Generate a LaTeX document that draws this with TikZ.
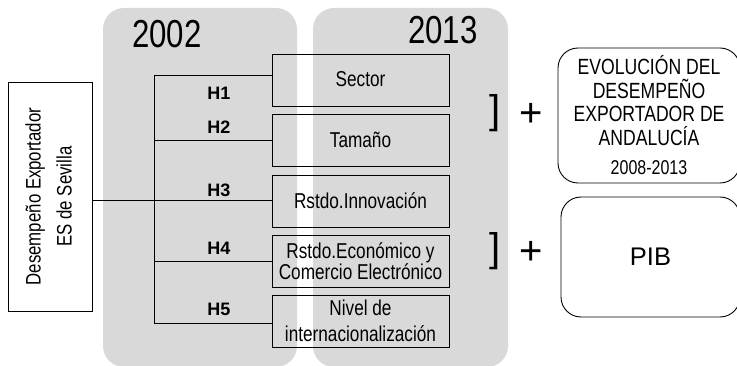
\documentclass[tikz,border=0pt]{standalone}
\usepackage{fontspec}
\setmainfont{Liberation Sans}
\newfontfamily\narrowfont{Liberation Sans}[FakeStretch=0.8]
\usetikzlibrary{positioning}

\tikzset{
  factor/.style={draw, line width=0.9pt, minimum width=177pt, minimum height=52pt,
    inner sep=1pt, align=center, font=\narrowfont\fontsize{21.5}{18.5}\selectfont},
  hyp/.style={font=\fontsize{18}{20}\selectfont\bfseries},
  yearlabel/.style={font=\narrowfont\fontsize{39}{40}\selectfont},
  bigsign/.style={inner sep=0pt, font=\fontsize{40}{44}\selectfont},
  roundbox/.style={draw, line width=0.9pt, rounded corners=20pt, align=center}
}

\begin{document}
\begin{tikzpicture}[x=1pt, y=-1pt]

% Define colors
\definecolor{panelgray}{RGB}{217, 217, 217}

\clip (0, 0) rectangle (737, 366);

% Draw the year panels
\fill[panelgray, rounded corners=21pt] (103, 8) rectangle (297, 367);
\fill[panelgray, rounded corners=21pt] (313, 8) rectangle (508, 367);

\node[yearlabel] (y2002) at (167, 34) {2002};
\node[yearlabel] (y2013) at (443, 30) {2013};

% Source box
\node[draw, line width=0.9pt, minimum width=84pt, minimum height=229pt, inner sep=0pt]
  (src) at (50, 196.5)
  {\rotatebox{90}{\narrowfont\fontsize{21}{31}\selectfont
   \begin{tabular}{@{}c@{}}Desempeño Exportador\\ES de Sevilla\end{tabular}}};

% Factor boxes
\node[factor] (f1) at (360.5, 80) {\raisebox{3pt}{Sector}};
\node[factor] (f2) at (360.5, 140) {Tamaño};
\node[factor] (f3) at (360.5, 201) {Rstdo.Innovación};
\node[factor] (f4) at (360.5, 261) {Rstdo.Económico y\\Comercio Electrónico};
\node[factor] (f5) at (360.5, 321) {Nivel de\\[8pt]internacionalización};

% Tree of hypotheses
\coordinate (j1) at (154, 75);
\coordinate (j2) at (154, 140);
\coordinate (j3) at (154, 200);
\coordinate (j4) at (154, 261);
\coordinate (j5) at (154, 323);

\draw[line width=0.8pt] (j1) -- (j5);
\draw[line width=0.8pt] (src.east |- j3) -- (j3 -| f3.west);
\draw[line width=0.8pt] (j1) -- (j1 -| f1.west);
\draw[line width=0.8pt] (j2) -- (j2 -| f2.west);
\draw[line width=0.8pt] (j4) -- (j4 -| f4.west);
\draw[line width=0.8pt] (j5) -- (j5 -| f5.west);

\node[hyp] (h1) at (219, 93) {H1};
\node[hyp] (h2) at (219, 127) {H2};
\node[hyp] (h3) at (219, 190) {H3};
\node[hyp] (h4) at (219, 248) {H4};
\node[hyp] (h5) at (219, 309) {H5};

% Brackets and plus signs
\node[bigsign] (br1) at (495, 113.5) {]};
\node[bigsign] (br2) at (495, 251.5) {]};
\node[bigsign] (pl1) at (531, 115) {+};
\node[bigsign] (pl2) at (531, 253) {+};

% Context boxes
\node[roundbox, minimum width=182pt, minimum height=135pt,
  font=\narrowfont\fontsize{22}{23.5}\selectfont] (evo) at (649, 115.5)
  {EVOLUCIÓN DEL\\DESEMPEÑO\\EXPORTADOR DE\\ANDALUCÍA\\[6pt]{\fontsize{20}{20}\selectfont 2008-2013}};
\node[roundbox, minimum width=179pt, minimum height=120pt,
  font=\fontsize{25.5}{28}\selectfont] (pib) at (650.5, 257) {PIB};

\end{tikzpicture}
\end{document}
